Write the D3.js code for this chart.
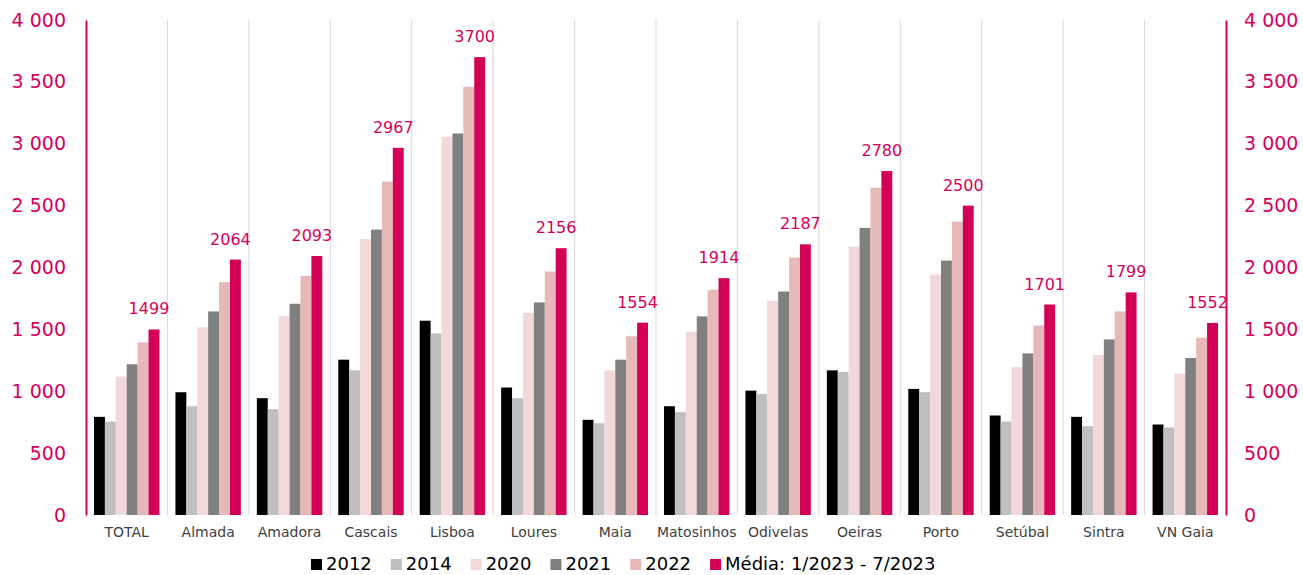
<!DOCTYPE html>
<html>
<head>
<meta charset="UTF-8">
<script src="https://cdn.jsdelivr.net/npm/d3@7"></script>
<style>
body{
  margin:0;
  background-color:#fff;
}
svg text{
  font-family:"DejaVu Sans", sans-serif;
}
</style>
</head>
<body>
<script>
// rendas por concelho

var categories = ["TOTAL","Almada","Amadora","Cascais","Lisboa","Loures","Maia","Matosinhos","Odivelas","Oeiras","Porto","Setúbal","Sintra","VN Gaia"]

var seriesNames = ["2012","2014","2020","2021","2022","Média: 1/2023 - 7/2023"]

var v2012 = [793, 992, 944, 1255, 1570, 1030, 769, 879, 1005, 1169, 1019, 804, 793, 731]
var v2014 = [755, 879, 855, 1169, 1468, 944, 742, 831, 978, 1156, 992, 755, 718, 707]
var v2020 = [1118, 1516, 1608, 2231, 3056, 1632, 1169, 1481, 1731, 2169, 1944, 1194, 1293, 1142]
var v2021 = [1218, 1645, 1707, 2306, 3083, 1718, 1255, 1605, 1806, 2320, 2056, 1306, 1419, 1269]
var v2022 = [1395, 1882, 1933, 2694, 3460, 1968, 1444, 1820, 2081, 2645, 2371, 1532, 1645, 1433]
var vMedia = [1499, 2064, 2093, 2967, 3700, 2156, 1554, 1914, 2187, 2780, 2500, 1701, 1799, 1552]

var yTicks = [0, 500, 1000, 1500, 2000, 2500, 3000, 3500, 4000]

var colors = ["#000000","#bfbfbf","#f2d8d8","#808080","#e6b8b7","#d20057"]
var pink = "#d6005c"

var allSeries = [v2012, v2014, v2020, v2021, v2022, vMedia]

var width = 1303
var height = 575

var plotLeft = 86, plotRight = 1226, plotTop = 20, plotBottom = 515

var svg = d3.select("body").append("svg")
    .attr("width", width)
    .attr("height", height)

var x0 = d3.scaleBand().domain(categories).range([plotLeft, plotRight])
var x1 = d3.scaleBand().domain(seriesNames).range([8, x0.bandwidth() - 8])
var y = d3.scaleLinear().domain([0, 4000]).range([plotBottom, plotTop])

var fmt = d => d3.format(",")(d).replace(/,/g, " ")

// gridlines between categories
svg.append("g")
  .selectAll("line")
  .data(categories.slice(1))
  .enter().append("line")
    .attr("x1", d => x0(d))
    .attr("x2", d => x0(d))
    .attr("y1", plotTop)
    .attr("y2", plotBottom)
    .attr("stroke", "#d9d9d9")
    .attr("stroke-width", 1)

// bars
var groups = svg.append("g")
  .selectAll("g")
  .data(categories)
  .enter().append("g")
    .attr("transform", d => "translate(" + x0(d) + ",0)")

groups.selectAll("rect")
  .data((c, i) => seriesNames.map((s, j) => ({s: s, j: j, v: allSeries[j][i]})))
  .enter().append("rect")
    .attr("x", d => x1(d.s))
    .attr("y", d => y(d.v))
    .attr("width", x1.bandwidth())
    .attr("height", d => y(0) - y(d.v))
    .attr("fill", d => colors[d.j])

// data labels for the last series
svg.append("g")
  .selectAll("text")
  .data(categories)
  .enter().append("text")
    .attr("x", (d, i) => x0(d) + x1(seriesNames[5]) + x1.bandwidth() / 2 - 5)
    .attr("y", (d, i) => y(vMedia[i]) - 15)
    .attr("text-anchor", "middle")
    .attr("font-size", 16)
    .attr("fill", pink)
    .text((d, i) => vMedia[i])

// axes
var yLeft = d3.axisLeft(y).tickValues(yTicks).tickSize(0).tickPadding(20).tickFormat(fmt)
var yRight = d3.axisRight(y).tickValues(yTicks).tickSize(0).tickPadding(18).tickFormat(fmt)

var gl = svg.append("g").attr("transform", "translate(" + plotLeft + ",0)").call(yLeft)
var gr = svg.append("g").attr("transform", "translate(" + plotRight + ",0)").call(yRight)

;[gl, gr].forEach(g => {
  g.select(".domain").attr("stroke", pink).attr("stroke-width", 2)
  g.selectAll("text")
    .attr("font-size", 19)
    .attr("fill", pink)
    .style("font-family", "DejaVu Sans")
})

var xAxis = d3.axisBottom(x0).tickSize(0).tickPadding(12)
var gx = svg.append("g").attr("transform", "translate(0," + plotBottom + ")").call(xAxis)
gx.select(".domain").remove()
gx.selectAll("text")
  .attr("font-size", 14)
  .attr("fill", "#404040")
  .style("font-family", "DejaVu Sans")

// legend
var legend = svg.append("g")
var lx = 311
seriesNames.forEach((s, j) => {
  legend.append("rect")
    .attr("x", lx)
    .attr("y", 559)
    .attr("width", 11)
    .attr("height", 11)
    .attr("fill", colors[j])
  var t = legend.append("text")
    .attr("x", lx + 15)
    .attr("y", 570)
    .attr("font-size", 18)
    .attr("fill", "#000")
    .text(s)
  lx += 15 + t.node().getComputedTextLength() + 19
})
</script>
</body>
</html>
